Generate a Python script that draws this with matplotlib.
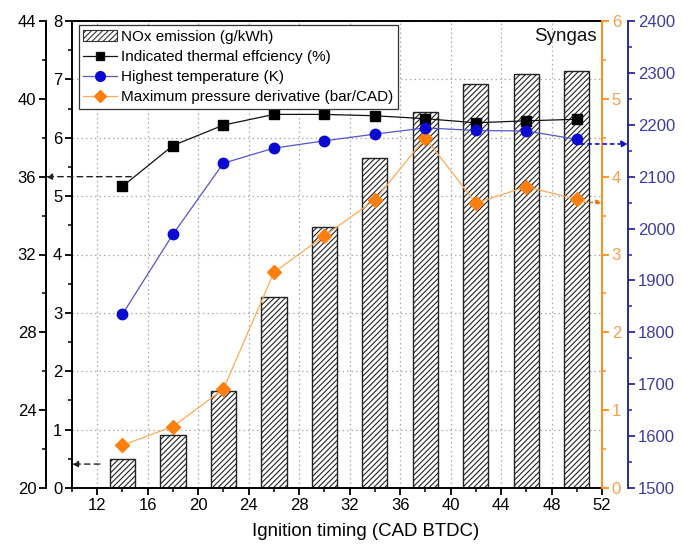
import matplotlib
matplotlib.use("Agg")
import matplotlib.pyplot as plt
from matplotlib.ticker import MultipleLocator
from matplotlib.patches import Patch
from matplotlib.lines import Line2D

plt.rcParams['font.family'] = ['Liberation Sans', 'DejaVu Sans']
plt.rcParams['hatch.linewidth'] = 0.8

# ---- data ----
timing = [14, 18, 22, 26, 30, 34, 38, 42, 46, 50]
nox = [0.50, 0.91, 1.66, 3.27, 4.47, 5.65, 6.44, 6.92, 7.09, 7.14]
efficiency = [35.5, 37.6, 38.65, 39.2, 39.2, 39.13, 38.98, 38.77, 38.87, 38.95]
temperature = [1835, 1989, 2126, 2155, 2169, 2182, 2194, 2189, 2188, 2172]
dpdt = [0.55, 0.79, 1.27, 2.77, 3.24, 3.70, 4.50, 3.66, 3.87, 3.71]

labels = ["NOx emission (g/kWh)", "Indicated thermal effciency (%)",
          "Highest temperature (K)", "Maximum pressure derivative (bar/CAD)"]

C_BLACK = "#111111"
C_BLUE_M = "#0a0ad0"
C_BLUE_L = "#5555cc"
C_BLUE_AX = "#2a2a9a"
C_OR_M = "#ff7f0e"
C_OR_L = "#ffaa55"
C_OR_AX = "#ff8c1a"

fig = plt.figure(figsize=(6.83, 5.44), dpi=100)
ax = fig.add_axes([72/683, 1-488/544, 530/683, 467/544])

W = 530.0
# NOx bars on inner left axis
ax.bar(timing, nox, width=2.0, facecolor='white', edgecolor='#222222',
       hatch='//////', linewidth=1.0, zorder=2)
ax.set_xlim(10, 52)
ax.set_ylim(0, 8)
ax.xaxis.set_major_locator(MultipleLocator(4))
ax.xaxis.set_minor_locator(MultipleLocator(2))
ax.yaxis.set_major_locator(MultipleLocator(1))
ax.yaxis.set_minor_locator(MultipleLocator(0.5))
ax.grid(True, which='major', linestyle=(0, (1.2, 2.4)), color='#aaaaaa', linewidth=0.9, zorder=0)
ax.set_axisbelow(True)
ax.tick_params(which='major', direction='out', length=5, width=1.3, labelsize=12, pad=2)
ax.tick_params(which='minor', direction='out', length=3, width=1.1)
ax.tick_params(axis='x', top=False)
for s in ax.spines.values():
    s.set_linewidth(1.4)
ax.spines['right'].set_visible(False)
ax.set_xlabel("Ignition timing (CAD BTDC)", fontsize=13.4)
ax.xaxis.set_label_coords((366 - 72) / W, -0.075)

# outer left axis: thermal efficiency
ax_eff = ax.twinx()
ax_eff.spines['left'].set_position(('axes', -26/W))
ax_eff.spines['left'].set_visible(True)
ax_eff.spines['right'].set_visible(False)
ax_eff.spines['top'].set_visible(False)
ax_eff.spines['bottom'].set_visible(False)
ax_eff.yaxis.set_ticks_position('left')
ax_eff.yaxis.set_label_position('left')
ax_eff.spines['left'].set_linewidth(1.4)
ax_eff.set_ylim(20, 44)
ax_eff.yaxis.set_major_locator(MultipleLocator(4))
ax_eff.yaxis.set_minor_locator(MultipleLocator(2))
ax_eff.tick_params(which='major', direction='out', length=5, width=1.3, labelsize=12, pad=2)
ax_eff.tick_params(which='minor', direction='out', length=3, width=1.1)
ax_eff.plot(timing, efficiency, color=C_BLACK, linewidth=0.9, marker='s',
            markersize=6.5, markerfacecolor='black', markeredgecolor='black', zorder=5)

# orange right axis: pressure derivative
ax_dp = ax.twinx()
for k in ['left', 'top', 'bottom']:
    ax_dp.spines[k].set_visible(False)
ax_dp.spines['right'].set_color(C_OR_AX)
ax_dp.spines['right'].set_linewidth(1.4)
ax_dp.set_ylim(0, 6)
ax_dp.yaxis.set_major_locator(MultipleLocator(1))
ax_dp.yaxis.set_minor_locator(MultipleLocator(0.5))
ax_dp.tick_params(which='major', direction='out', length=5, width=1.3, labelsize=12,
                  colors=C_OR_AX, pad=2)
ax_dp.tick_params(which='minor', direction='out', length=3, width=1.1, colors=C_OR_AX)
for t in ax_dp.get_yticklabels():
    t.set_color("#f5a04a")
ax_dp.plot(timing, dpdt, color=C_OR_L, linewidth=0.9, marker='D',
           markersize=7, markerfacecolor=C_OR_M, markeredgecolor=C_OR_M, zorder=5)

# blue right axis: temperature
ax_t = ax.twinx()
for k in ['left', 'top', 'bottom']:
    ax_t.spines[k].set_visible(False)
ax_t.spines['right'].set_position(('axes', 1 + 26/W))
ax_t.spines['right'].set_color(C_BLUE_AX)
ax_t.spines['right'].set_linewidth(1.4)
ax_t.set_ylim(1500, 2400)
ax_t.yaxis.set_major_locator(MultipleLocator(100))
ax_t.yaxis.set_minor_locator(MultipleLocator(50))
ax_t.tick_params(which='major', direction='out', length=5, width=1.3, labelsize=12,
                 colors=C_BLUE_AX, pad=2)
ax_t.tick_params(which='minor', direction='out', length=3, width=1.1, colors=C_BLUE_AX)
for t in ax_t.get_yticklabels():
    t.set_color("#3c3ca0")
ax_t.plot(timing, temperature, color=C_BLUE_L, linewidth=0.9, marker='o',
          markersize=7.5, markerfacecolor=C_BLUE_M, markeredgecolor=C_BLUE_M, zorder=5)

# axis indicator arrows
ax_eff.annotate("", xy=(-26/W, 36), xycoords=('axes fraction', 'data'),
                xytext=(14.7, 36), textcoords='data',
                arrowprops=dict(arrowstyle='-|>', linestyle=(0, (4, 3)), color='#222222',
                                linewidth=1.0, mutation_scale=9, shrinkA=0, shrinkB=0),
                annotation_clip=False)
ax.annotate("", xy=(0, 0.41), xycoords=('axes fraction', 'data'),
            xytext=(12.2, 0.41), textcoords='data',
            arrowprops=dict(arrowstyle='-|>', linestyle=(0, (4, 3)), color='#222222',
                            linewidth=1.0, mutation_scale=9, shrinkA=0, shrinkB=0),
            annotation_clip=False)
ax_t.annotate("", xy=(1 + 26/W, 2163), xycoords=('axes fraction', 'data'),
              xytext=(50.3, 2163), textcoords='data',
              arrowprops=dict(arrowstyle='-|>', linestyle=(0, (2, 2.5)), color=C_BLUE_M,
                              linewidth=1.2, mutation_scale=9, shrinkA=0, shrinkB=0),
              annotation_clip=False)
ax_dp.annotate("", xy=(1.0, 3.67), xycoords=('axes fraction', 'data'),
               xytext=(50.6, 3.67), textcoords='data',
               arrowprops=dict(arrowstyle='-|>', linestyle=(0, (2, 2)), color='#dd7a20',
                               linewidth=1.0, mutation_scale=8, shrinkA=0, shrinkB=0),
               annotation_clip=False)

# Syngas label
ax_t.text((597 - 72) / W, 0.984, "Syngas", transform=ax.transAxes, ha='right', va='top',
          fontsize=13.5, color='#111111')

# legend
handles = [
    Patch(facecolor='white', edgecolor='#333333', hatch='//////', linewidth=0.8),
    Line2D([], [], color=C_BLACK, linewidth=0.9, marker='s', markersize=6,
           markerfacecolor='black'),
    Line2D([], [], color=C_BLUE_L, linewidth=0.9, marker='o', markersize=7,
           markerfacecolor=C_BLUE_M, markeredgecolor=C_BLUE_M),
    Line2D([], [], color=C_OR_L, linewidth=0.9, marker='D', markersize=6.5,
           markerfacecolor=C_OR_M, markeredgecolor=C_OR_M),
]
leg = ax_t.legend(handles, labels, loc='upper left', bbox_to_anchor=(0.013, 0.991),
                  bbox_transform=ax.transAxes, borderaxespad=0, fontsize=11,
                  frameon=True, fancybox=False, framealpha=1, edgecolor='#333333',
                  handlelength=2.2, handletextpad=0.25, labelspacing=0.4, borderpad=0.3)
leg.get_frame().set_linewidth(0.9)
leg.set_zorder(10)

fig.savefig("out.png", dpi=100)
